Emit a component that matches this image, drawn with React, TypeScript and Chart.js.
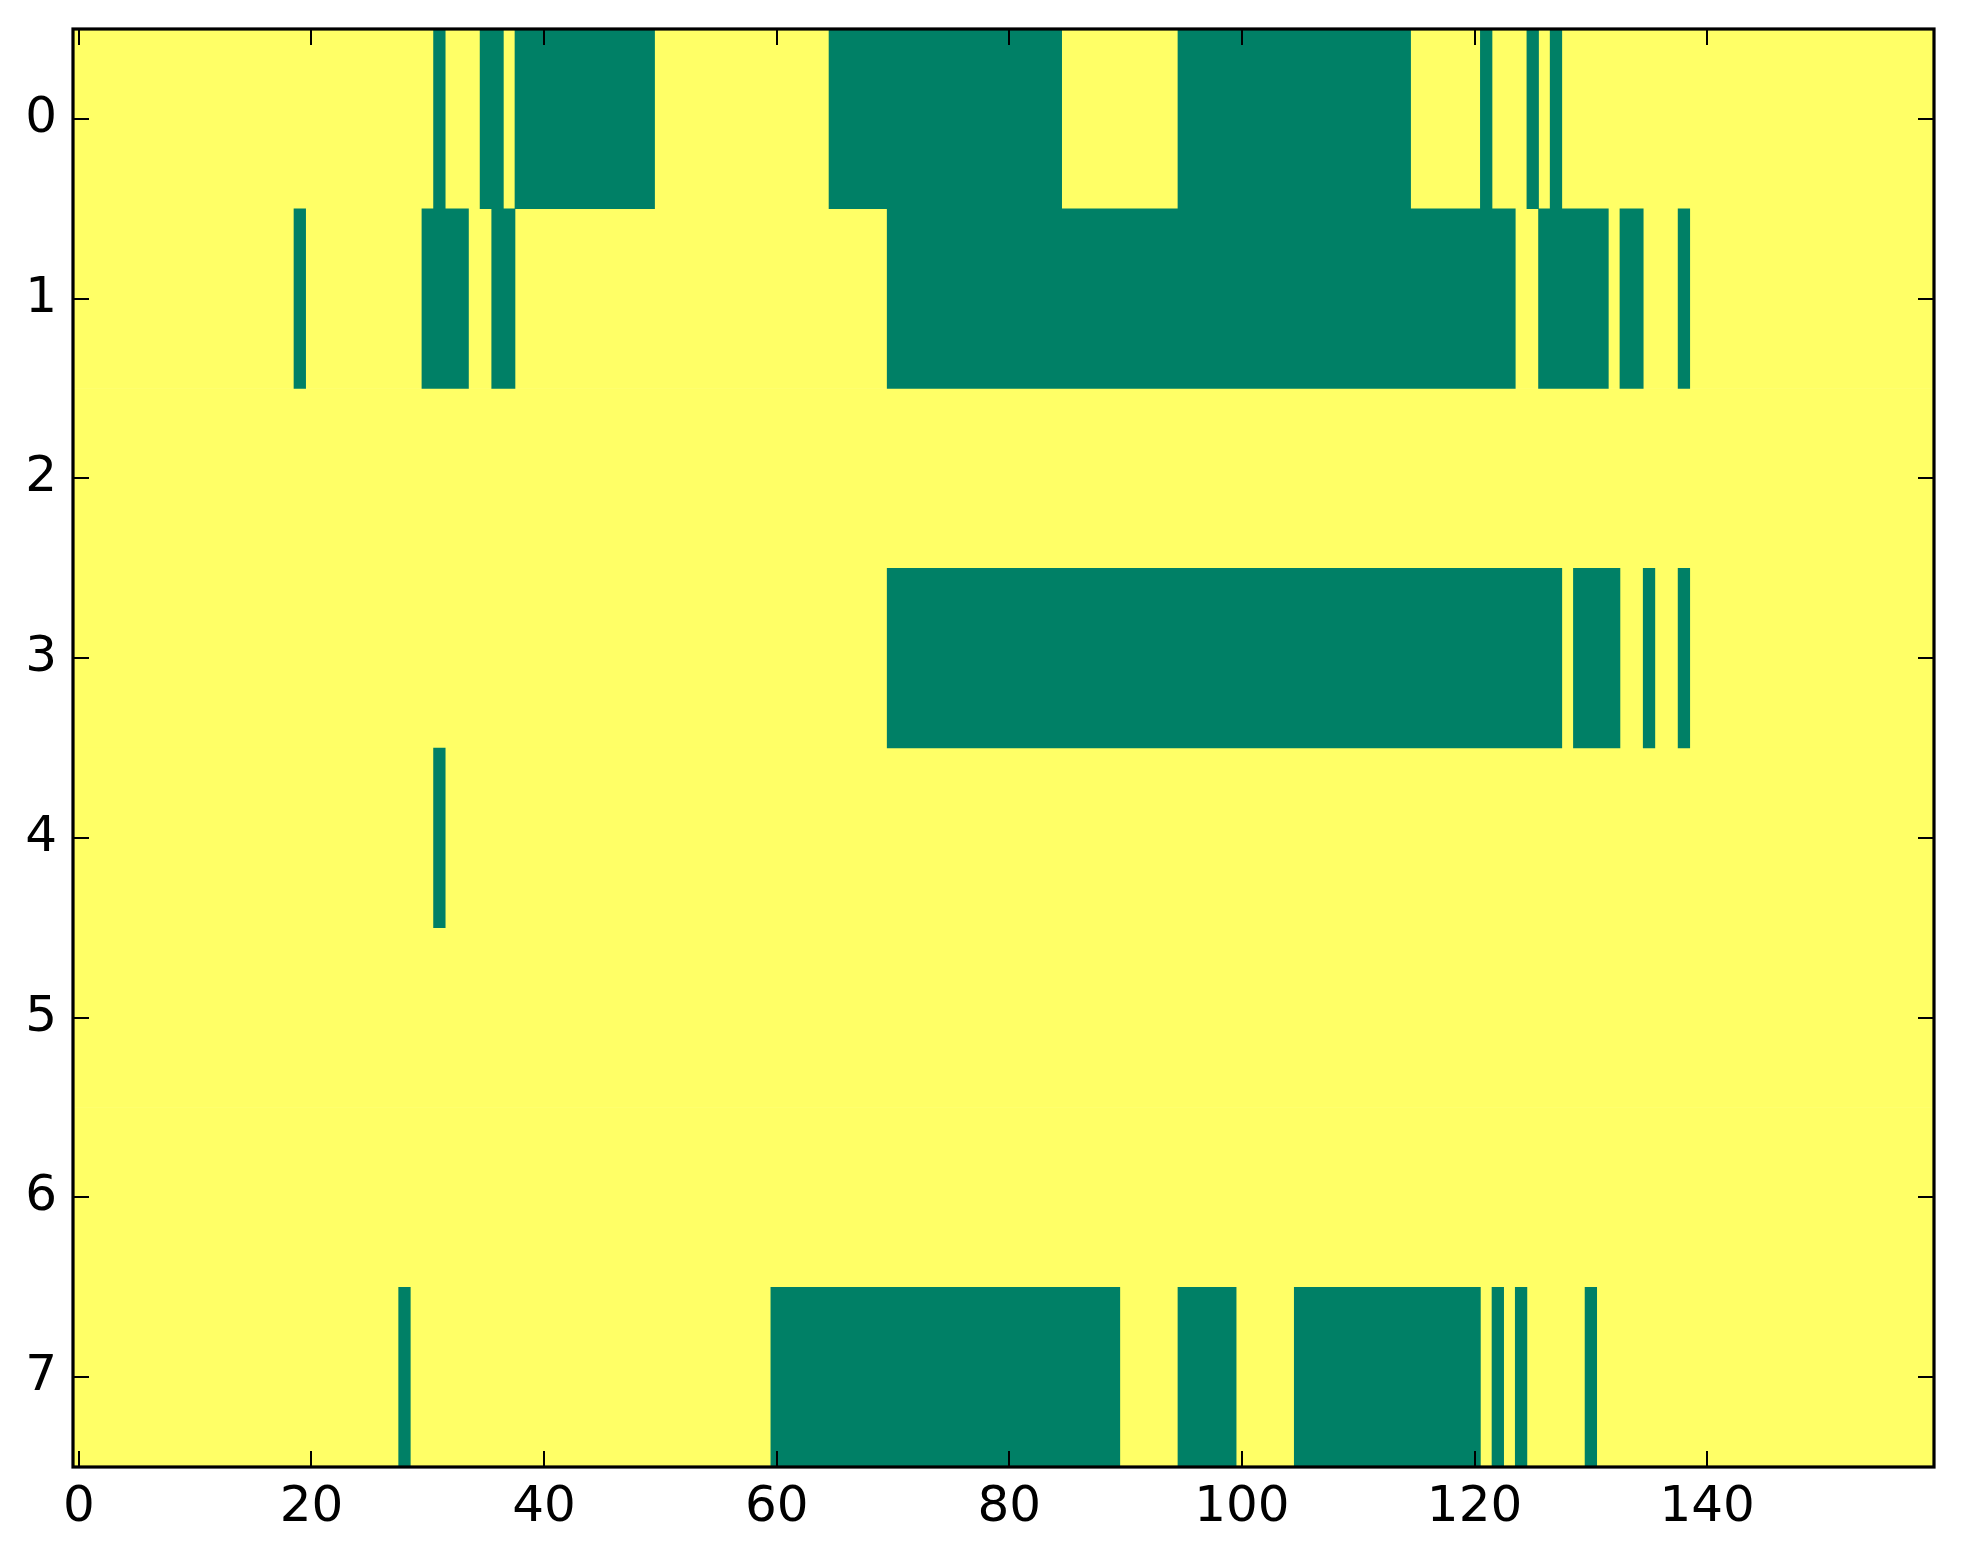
import React, { useEffect, useRef } from "react";
import { Chart, registerables } from "chart.js";

Chart.register(...registerables);

// Image of 8 rows x 160 columns (binary: 0 = yellow, 1 = green)
const rowLabels = [0, 1, 2, 3, 4, 5, 6, 7];
const xTickValues = [0, 20, 40, 60, 80, 100, 120, 140];
const columnCount = 160;

// Runs of "1" cells per row: [firstColumn, lastColumn]
const row0Runs = [[31, 31], [35, 36], [38, 49], [65, 84], [95, 114], [121, 121], [125, 125], [127, 127]];
const row1Runs = [[19, 19], [30, 33], [36, 37], [70, 123], [126, 131], [133, 134], [138, 138]];
const row2Runs: number[][] = [];
const row3Runs = [[70, 127], [129, 132], [135, 135], [138, 138]];
const row4Runs = [[31, 31]];
const row5Runs: number[][] = [];
const row6Runs: number[][] = [];
const row7Runs = [[28, 28], [60, 89], [95, 99], [105, 120], [122, 122], [124, 124], [130, 130]];

const allRuns = [row0Runs, row1Runs, row2Runs, row3Runs, row4Runs, row5Runs, row6Runs, row7Runs];

const HIGH_COLOR = "#008066"; // summer colormap, value 1
const LOW_COLOR = "#ffff66"; // summer colormap, value 0

const W = 1963;
const H = 1564;

const frameTicksPlugin = {
  id: "frameTicks",
  afterDatasetsDraw(chart: any) {
    const { ctx, chartArea } = chart;
    const xs = chart.scales.x;
    const ys = chart.scales.y;
    const tl = 16;
    ctx.save();
    ctx.strokeStyle = "#000";
    ctx.lineWidth = 2;
    ctx.beginPath();
    xTickValues.forEach((v) => {
      const px = Math.round(xs.getPixelForValue(v));
      ctx.moveTo(px, chartArea.bottom);
      ctx.lineTo(px, chartArea.bottom - tl);
      ctx.moveTo(px, chartArea.top);
      ctx.lineTo(px, chartArea.top + tl);
    });
    rowLabels.forEach((v) => {
      const py = Math.round(ys.getPixelForValue(v));
      ctx.moveTo(chartArea.left, py);
      ctx.lineTo(chartArea.left + tl, py);
      ctx.moveTo(chartArea.right, py);
      ctx.lineTo(chartArea.right - tl, py);
    });
    ctx.stroke();
    ctx.lineWidth = 3.2;
    ctx.strokeRect(chartArea.left, chartArea.top, chartArea.right - chartArea.left, chartArea.bottom - chartArea.top);
    ctx.restore();
  },
};

export default function App() {
  const canvasRef = useRef<HTMLCanvasElement | null>(null);

  useEffect(() => {
    if (!canvasRef.current) return;
    const highData = allRuns.flatMap((runs, r) =>
      runs.map(([a, b]) => ({ x: [a - 0.5, b + 0.5], y: r }))
    );
    const lowData = rowLabels.map((r) => ({ x: [-0.5, columnCount - 0.5], y: r }));

    const chart = new Chart(canvasRef.current, {
      type: "bar",
      data: {
        datasets: [
          {
            label: "1",
            data: highData as any,
            backgroundColor: HIGH_COLOR,
            borderWidth: 0,
            grouped: false,
            barPercentage: 1,
            categoryPercentage: 1,
            order: 0,
          },
          {
            label: "0",
            data: lowData as any,
            backgroundColor: LOW_COLOR,
            borderWidth: 0,
            grouped: false,
            barPercentage: 1,
            categoryPercentage: 1,
            order: 1,
          },
        ],
      },
      options: {
        indexAxis: "y",
        responsive: false,
        animation: false,
        devicePixelRatio: 1,
        layout: { padding: { top: 29, right: 29, left: 0, bottom: 0 } },
        plugins: { legend: { display: false }, tooltip: { enabled: false } },
        scales: {
          x: {
            type: "linear",
            position: "bottom",
            min: -0.5,
            max: columnCount - 0.5,
            offset: false,
            grid: { display: false, drawTicks: false },
            border: { display: false },
            ticks: {
              color: "#000",
              padding: 11,
              maxRotation: 0,
              autoSkip: false,
              font: { family: "'DejaVu Sans'", size: 50 },
            },
            afterBuildTicks: (scale: any) => {
              scale.ticks = xTickValues.map((v) => ({ value: v }));
            },
            afterFit: (scale: any) => {
              scale.height = 97;
              scale.paddingLeft = 0;
              scale.paddingRight = 0;
            },
          },
          y: {
            type: "linear",
            position: "left",
            reverse: true,
            min: -0.5,
            max: rowLabels.length - 0.5,
            offset: false,
            grid: { display: false, drawTicks: false },
            border: { display: false },
            ticks: {
              color: "#000",
              padding: 16,
              autoSkip: false,
              font: { family: "'DejaVu Sans'", size: 50 },
            },
            afterBuildTicks: (scale: any) => {
              scale.ticks = rowLabels.map((v) => ({ value: v }));
            },
            afterFit: (scale: any) => {
              scale.width = 73;
              scale.paddingTop = 0;
              scale.paddingBottom = 0;
            },
          },
        },
      } as any,
      plugins: [frameTicksPlugin],
    });
    return () => chart.destroy();
  }, []);

  return (
    <div style={{ position: "absolute", left: 0, top: 0, width: W, height: H, background: "#fff" }}>
      <canvas ref={canvasRef} width={W} height={H} style={{ width: W, height: H, display: "block" }} />
    </div>
  );
}
